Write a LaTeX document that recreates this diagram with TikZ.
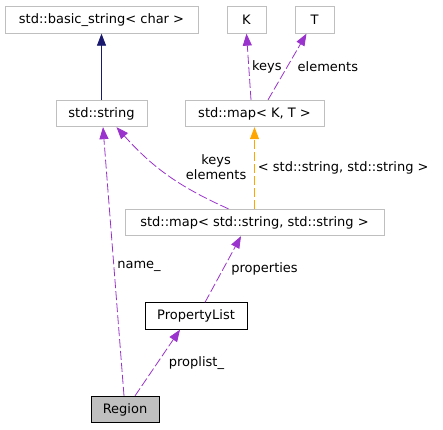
\documentclass[tikz,border=0pt]{standalone}
\usepackage{fontspec}
\setmainfont{DejaVu Sans}
\usetikzlibrary{arrows.meta}
\definecolor{boxgray}{HTML}{BFBFBF}
\definecolor{usepurple}{HTML}{9A32CD}
\definecolor{tmplorange}{HTML}{FFA500}
\definecolor{inhnavy}{HTML}{191970}
\begin{document}
\begin{tikzpicture}[x=1pt,y=-1pt,->,>={Triangle[length=12pt,width=9pt]},line width=0.8pt,
                    class node/.style={rectangle,draw=boxgray,minimum height=26.5pt,inner sep=0pt,font=\fontsize{13}{15}\selectfont},
                    plain node/.style={class node,draw=black},
                    focus node/.style={class node,draw=black,fill=boxgray},
                    usage/.style={draw=usepurple,dash pattern=on 9pt off 3pt},
                    tmpl/.style={draw=tmplorange,dash pattern=on 9pt off 3pt},
                    inherit/.style={draw=inhnavy}]
  \useasboundingbox (0,0) rectangle (443,429);

  \node[class node,minimum width=193pt] (bstr) at (101.5,20) {std::basic\_string< char >};
  \node[class node,minimum width=39pt] (K) at (246.5,20) {K};
  \node[class node,minimum width=39pt] (T) at (314.5,20) {T};
  \node[class node,minimum width=91pt] (str) at (101.5,113.5) {std::string};
  \node[class node,minimum width=139pt] (mapKT) at (254.5,113.5) {std::map< K, T >};
  \node[class node,minimum width=259pt] (mapSS) at (254.5,222.5) {std::map< std::string, std::string >};
  \node[plain node,minimum width=102pt] (plist) at (196,316) {PropertyList};
  \node[focus node,minimum width=68pt] (region) at (125,409.5) {Region};

  \path[every node/.style={font=\fontsize{13}{15}\selectfont,inner sep=3pt}]
    (str.north) edge[inherit] (bstr.south)
    ([xshift=-3.5pt]mapKT.north) edge[usage] node[right] {keys} (K.south)
    ([xshift=13.5pt]mapKT.north) edge[usage] node[right=7pt] {elements} ([xshift=-8pt]T.south)
    ([xshift=-26pt]mapSS.north) edge[usage,bend left=12] node[right,align=center,xshift=15pt,yshift=8pt] {keys\\elements} ([xshift=15pt]str.south)
    (mapSS.north) edge[tmpl] node[right] {< std::string, std::string >} (mapKT.south)
    ([xshift=9pt]plist.north) edge[usage] node[right=5pt] {properties} ([xshift=-13.5pt]mapSS.south)
    ([xshift=-1pt]region.north) edge[usage] node[right,pos=0.48] {name\_} ([xshift=1.5pt]str.south)
    ([xshift=10pt]region.north) edge[usage] node[right=8pt] {proplist\_} ([xshift=-16pt]plist.south);
\end{tikzpicture}
\end{document}
